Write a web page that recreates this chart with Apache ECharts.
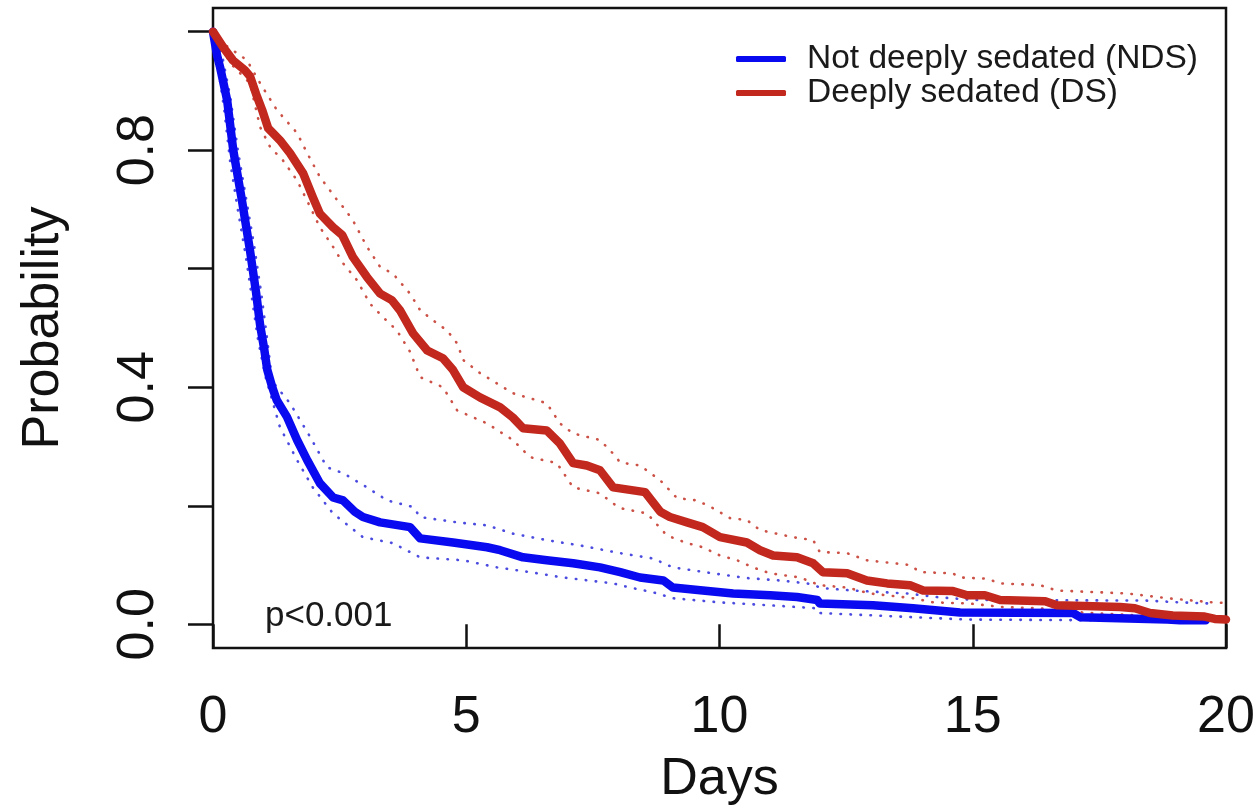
<!DOCTYPE html>
<html>
<head>
<meta charset="utf-8">
<script src="https://cdn.jsdelivr.net/npm/echarts@6/dist/echarts.min.js"></script>
<style>
html,body{margin:0;padding:0;background:#fff;}
#chart{width:1258px;height:808px;}
</style>
</head>
<body>
<div id="chart"></div>
<script>
// ---- data (days, survival probability) ----
const seriesNames = ['Not deeply sedated (NDS)', 'Deeply sedated (DS)'];
const xTicks = [0, 5, 10, 15, 20];
const yTicks = [0, 0.2, 0.4, 0.6, 0.8, 1.0];
const yLabels = [0, 0.4, 0.8];
const pText = 'p<0.001';

const ndsCurve = [
  [0,1.0],[0.08,0.96],[0.14,0.94],[0.28,0.884],[0.40,0.80],[0.57,0.716],[0.73,0.631],
  [0.85,0.56],[0.93,0.505],[1.01,0.465],[1.07,0.43],[1.17,0.40],[1.26,0.378],[1.46,0.35],
  [1.66,0.311],[1.86,0.277],[2.11,0.238],[2.37,0.214],[2.57,0.209],[2.80,0.19],[2.96,0.181],
  [3.30,0.172],[3.89,0.164],[4.09,0.145],[4.74,0.138],[5.41,0.130],[5.67,0.125],[6.12,0.113],
  [6.59,0.108],[7.11,0.103],[7.64,0.096],[8.04,0.088],[8.43,0.079],[8.89,0.074],[9.08,0.062],
  [9.67,0.057],[10.27,0.052],[11.00,0.049],[11.53,0.046],[11.93,0.041],[11.98,0.035],
  [13.03,0.032],[13.82,0.027],[14.75,0.020],[16.98,0.019],[17.12,0.012],[18.84,0.008],
  [19.09,0.007],[19.60,0.007]
];
const ndsUpper = [
  [0,1.0],[0.18,0.96],[0.34,0.89],[0.49,0.80],[0.65,0.72],[0.81,0.64],[0.95,0.56],[1.07,0.48],
  [1.17,0.41],[1.52,0.373],[1.92,0.316],[2.25,0.265],[2.57,0.255],[3.04,0.231],[3.44,0.209],
  [3.95,0.198],[4.09,0.181],[4.82,0.172],[5.41,0.167],[5.92,0.153],[6.59,0.142],[7.25,0.133],
  [8.04,0.120],[8.69,0.111],[9.08,0.096],[9.87,0.086],[10.54,0.078],[11.19,0.074],[11.73,0.069],
  [12.04,0.061],[12.64,0.057],[13.70,0.052],[14.29,0.046],[15.01,0.041],[18.44,0.040],
  [19.09,0.037],[19.74,0.035]
];
const ndsLower = [
  [0,1.0],[0.10,0.94],[0.22,0.87],[0.34,0.78],[0.49,0.70],[0.65,0.62],[0.77,0.55],[0.89,0.48],
  [1.03,0.42],[1.32,0.333],[1.66,0.277],[1.97,0.231],[2.37,0.187],[2.96,0.147],[3.55,0.137],
  [4.09,0.113],[4.94,0.108],[5.61,0.096],[6.26,0.088],[6.91,0.079],[7.90,0.069],[8.23,0.062],
  [8.69,0.054],[9.08,0.044],[10.01,0.037],[11.00,0.032],[11.93,0.027],[11.98,0.019],
  [13.82,0.012],[14.89,0.008],[17.06,0.007],[19.49,0.005]
];
const dsCurve = [
  [0,1.0],[0.20,0.974],[0.39,0.952],[0.63,0.935],[0.73,0.925],[0.85,0.895],[0.97,0.868],
  [1.09,0.837],[1.32,0.817],[1.52,0.795],[1.78,0.761],[1.97,0.721],[2.11,0.693],[2.37,0.670],
  [2.55,0.657],[2.76,0.620],[3.04,0.586],[3.30,0.558],[3.53,0.547],[3.69,0.530],[3.95,0.491],
  [4.23,0.462],[4.54,0.449],[4.74,0.429],[4.94,0.400],[5.27,0.383],[5.67,0.366],[5.92,0.349],
  [6.12,0.331],[6.59,0.327],[6.85,0.305],[7.11,0.272],[7.38,0.268],[7.64,0.260],[7.90,0.231],
  [8.53,0.223],[8.83,0.190],[9.02,0.181],[9.36,0.172],[9.67,0.164],[10.01,0.147],[10.54,0.138],
  [10.80,0.125],[11.06,0.116],[11.53,0.113],[11.85,0.103],[12.04,0.088],[12.52,0.086],
  [12.91,0.074],[13.31,0.069],[13.76,0.066],[14.02,0.057],[14.61,0.056],[14.89,0.049],
  [15.24,0.049],[15.54,0.041],[16.43,0.039],[16.66,0.032],[17.91,0.029],[18.20,0.027],
  [18.50,0.019],[18.95,0.015],[19.58,0.013],[19.78,0.009],[20.0,0.008]
];
const dsUpper = [
  [0,1.0],[0.20,0.98],[0.67,0.952],[0.93,0.913],[1.26,0.868],[1.66,0.829],[1.86,0.795],
  [2.11,0.755],[2.45,0.716],[2.57,0.704],[2.76,0.682],[3.04,0.637],[3.30,0.603],[3.55,0.592],
  [3.89,0.558],[4.09,0.530],[4.42,0.508],[4.62,0.496],[4.82,0.474],[4.94,0.446],[5.27,0.424],
  [5.92,0.390],[6.59,0.373],[6.85,0.339],[7.11,0.322],[7.64,0.311],[7.90,0.288],[8.04,0.273],
  [8.43,0.268],[8.83,0.243],[9.16,0.213],[9.56,0.209],[9.87,0.196],[10.21,0.179],[10.54,0.176],
  [10.80,0.159],[11.45,0.147],[11.85,0.142],[11.98,0.122],[12.52,0.120],[12.91,0.108],
  [13.76,0.100],[13.96,0.088],[14.61,0.086],[14.75,0.079],[15.28,0.077],[15.54,0.069],
  [16.33,0.066],[16.66,0.057],[18.05,0.052],[18.84,0.044],[19.74,0.037],[20.0,0.036]
];
const dsLower = [
  [0,1.0],[0.34,0.947],[0.73,0.913],[0.93,0.839],[1.13,0.805],[1.38,0.783],[1.66,0.749],
  [1.92,0.704],[2.11,0.670],[2.37,0.637],[2.57,0.609],[2.84,0.581],[3.10,0.541],[3.36,0.518],
  [3.63,0.496],[3.89,0.460],[4.09,0.417],[4.54,0.400],[4.82,0.361],[5.41,0.339],[5.92,0.311],
  [6.26,0.282],[6.79,0.272],[7.11,0.231],[7.64,0.221],[7.90,0.204],[8.04,0.196],[8.57,0.187],
  [8.96,0.150],[9.36,0.137],[9.67,0.130],[10.01,0.116],[10.35,0.108],[10.66,0.096],[11.00,0.086],
  [11.59,0.079],[11.98,0.066],[12.52,0.062],[12.97,0.052],[13.82,0.044],[14.22,0.037],
  [14.95,0.035],[15.60,0.029],[16.33,0.027],[16.72,0.022],[18.50,0.014],[20.0,0.006]
];

// ---- styles ----
const FONT = "'Liberation Sans', Arial, Helvetica, sans-serif";
const BLUE = '#0A0AF0';
const RED = '#C2281D';
const BLUE_CI = '#4B4BE0';
const RED_CI = '#CC5247';

function ciSeries(name, data, color) {
  return {
    name: name, type: 'line', data: data, symbol: 'none', silent: true,
    lineStyle: { color: color, width: 2.6, type: [0.5, 9.5], cap: 'round' },
    z: 2
  };
}
function mainSeries(name, data, color, z) {
  return {
    name: name, type: 'line', data: data, symbol: 'none', color: color,
    lineStyle: { color: color, width: 8.5, cap: 'round', join: 'round' },
    z: z
  };
}

const chart = echarts.init(document.getElementById('chart'), null, { renderer: 'canvas' });
chart.setOption({
  animation: false,
  backgroundColor: '#fff',
  textStyle: { fontFamily: FONT },
  grid: {
    left: 213, right: 32, top: 8, bottom: 160,
    outerBoundsMode: 'none',
    containLabel: false,
    show: true, borderColor: '#111', borderWidth: 2.5, backgroundColor: 'transparent'
  },
  legend: {
    data: seriesNames,
    orient: 'vertical',
    left: 736, top: 42,
    padding: 0,
    itemGap: 0,
    itemWidth: 50, itemHeight: 6,
    icon: 'roundRect',
    textStyle: { fontFamily: FONT, fontSize: 33.5, lineHeight: 30, color: '#1a1a1a', padding: [0, 0, 0, 16] }
  },
  xAxis: {
    type: 'value', min: 0, max: 20, interval: 5,
    axisLine: { show: false },
    axisTick: { show: true, length: 24, lineStyle: { color: '#111', width: 2.5 }, customValues: xTicks },
    axisLabel: { fontFamily: FONT, fontSize: 52, color: '#111', margin: 44, customValues: xTicks },
    splitLine: { show: false },
    name: 'Days', nameLocation: 'middle', nameGap: 106,
    nameTextStyle: { fontFamily: FONT, fontSize: 52, color: '#111' }
  },
  yAxis: {
    type: 'value', min: -0.04, max: 1.04,
    axisLine: { show: false },
    axisTick: { show: true, length: 25, lineStyle: { color: '#111', width: 2.5 }, customValues: yTicks },
    axisLabel: {
      fontFamily: FONT, fontSize: 52, color: '#111', margin: 48, rotate: 90,
      customValues: yLabels, formatter: function (v) { return Number(v).toFixed(1); }
    },
    splitLine: { show: false },
    name: 'Probability', nameLocation: 'middle', nameGap: 143, nameRotate: 90,
    nameTextStyle: { fontFamily: FONT, fontSize: 52, color: '#111' }
  },
  graphic: [{
    type: 'text', left: 265, top: 599, silent: true,
    style: { text: pText, font: '35px ' + FONT, fill: '#1a1a1a' }
  }],
  series: [
    ciSeries('NDS upper 95% CI', ndsUpper, BLUE_CI),
    ciSeries('NDS lower 95% CI', ndsLower, BLUE_CI),
    ciSeries('DS upper 95% CI', dsUpper, RED_CI),
    ciSeries('DS lower 95% CI', dsLower, RED_CI),
    mainSeries(seriesNames[0], ndsCurve, BLUE, 3),
    mainSeries(seriesNames[1], dsCurve, RED, 4)
  ]
});
</script>
</body>
</html>
